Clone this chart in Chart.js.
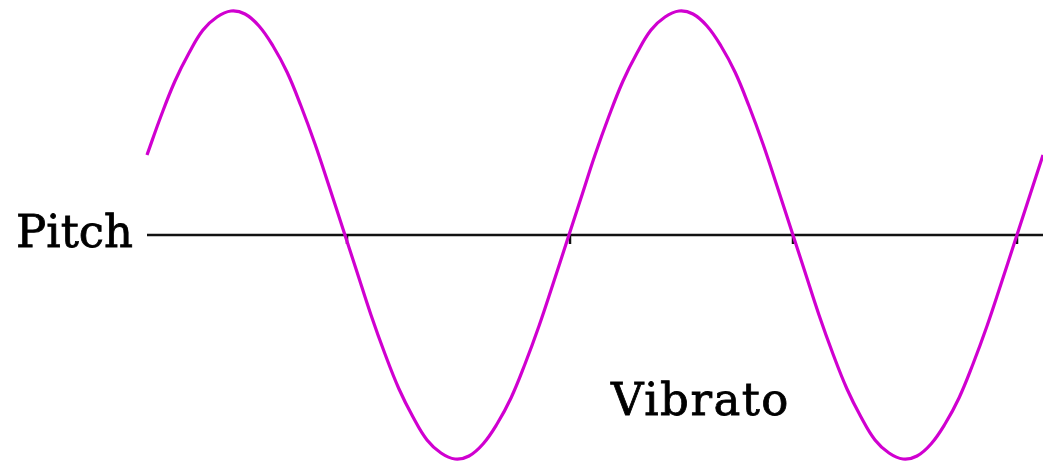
<!DOCTYPE html>
<html>
<head>
<meta charset="utf-8">
<script src="https://cdn.jsdelivr.net/npm/chart.js@4/dist/chart.umd.min.js"></script>
<style>
html,body{margin:0;padding:0;background:#fff;}
#wrap{width:1043px;height:465px;position:relative;}
</style>
</head>
<body>
<div id="wrap"><canvas id="c"></canvas></div>
<script>
// horizontal position along the wave (px units from left end of the pitch line)
const waveX = [0,14,28,42,56,70,84,98,112,126,140,154,168,182,196,210,224,238,252,266,280,294,308,322,336,350,364,378,392,406,420,434,448,
               462,476,490,504,518,532,546,560,574,588,602,616,630,644,658,672,686,700,714,728,742,756,770,784,798,812,826,840,854,868,882,896];
// vertical deviation from the pitch line
const waveY = [80,119,154,182,205,218,224,221,209,189,163,129,91,49,6,-37,-80,-119,-154,-182,-205,-218,-224,-221,-209,-189,-163,-129,-91,-49,-6,37,80,
               119,154,182,205,218,224,221,209,189,163,129,91,49,6,-37,-80,-119,-154,-182,-205,-218,-224,-221,-209,-189,-163,-129,-91,-49,-6,37,80];
const pitchX = [0, 896];
const pitchY = [0, 0];
const tickX = [200, 423, 646, 870];
const tickY = [-4, -4, -4, -4];
const labels = [
  {text:'Pitch', x:-14, y:-12, align:'right', spacing:'0px'},
  {text:'Vibrato', x:464, y:-180, align:'left', spacing:'1.5px'}
];

const textPlugin = {
  id:'texts',
  afterDatasetsDraw(chart){
    const ctx = chart.ctx, xs = chart.scales.x, ys = chart.scales.y;
    ctx.save();
    ctx.font = '45px "DejaVu Serif"';
    ctx.fillStyle = '#000';
    ctx.strokeStyle = '#000';
    ctx.lineWidth = 0.8;
    ctx.textBaseline = 'alphabetic';
    labels.forEach(l=>{
      ctx.textAlign = l.align;
      ctx.letterSpacing = l.spacing;
      const px = xs.getPixelForValue(l.x), py = ys.getPixelForValue(l.y);
      ctx.fillText(l.text, px, py);
      ctx.strokeText(l.text, px, py);
    });
    ctx.restore();
  }
};

new Chart(document.getElementById('c'), {
  type:'line',
  data:{
    datasets:[
      {data: waveX.map((x,i)=>({x, y: waveY[i]})), borderColor:'#d000d0', borderWidth:3.2, pointRadius:0, tension:0.4, fill:false, order:0},
      {data: pitchX.map((x,i)=>({x, y: pitchY[i]})), borderColor:'#111', borderWidth:2.5, pointRadius:0, tension:0, fill:false, order:2},
      {data: tickX.map((x,i)=>({x, y: tickY[i]})), showLine:false, pointStyle:'line', rotation:90, pointRadius:5, borderColor:'#111', borderWidth:2.5, order:1}
    ]
  },
  options:{
    responsive:true,
    maintainAspectRatio:false,
    animation:false,
    clip:false,
    layout:{autoPadding:false, padding:{left:147,right:0,top:0,bottom:0}},
    plugins:{legend:{display:false}, tooltip:{enabled:false}},
    scales:{
      x:{type:'linear', min:0, max:896, display:false},
      y:{type:'linear', min:-230, max:235, display:false}
    }
  },
  plugins:[textPlugin]
});
</script>
</body>
</html>
